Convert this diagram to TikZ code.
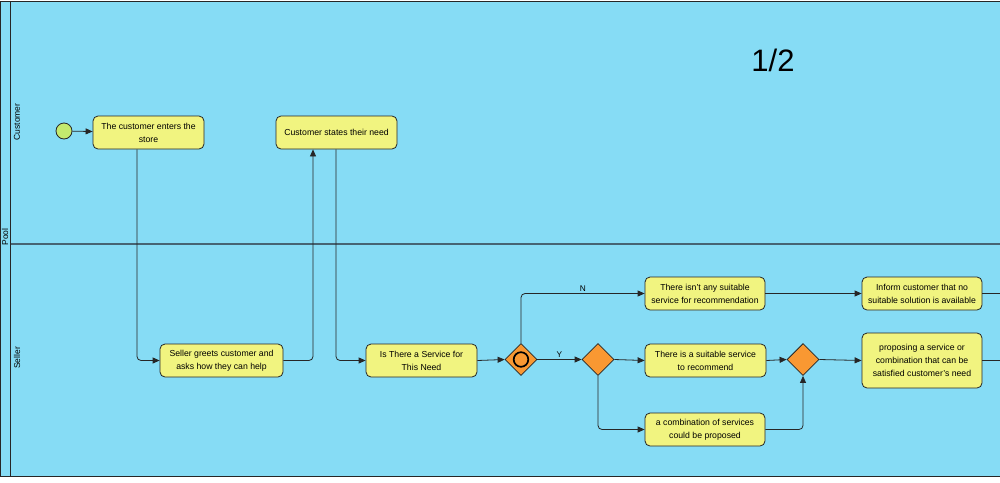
\documentclass[tikz,border=0pt]{standalone}
\usepackage{fontspec}
\setmainfont{Liberation Sans}
\usetikzlibrary{shapes.geometric,arrows.meta}
\definecolor{poolbg}{RGB}{134,220,245}
\definecolor{taskfill}{RGB}{241,244,128}
\definecolor{gwfill}{RGB}{249,152,50}
\definecolor{startfill}{RGB}{196,234,110}
\definecolor{lanesep}{RGB}{70,100,115}
\tikzset{
  task/.style={draw=black!85, fill=taskfill, rounded corners=5pt, line width=0.8pt,
    minimum height=33pt, inner sep=0pt, align=center,
    font=\fontsize{8.7}{13}\selectfont},
  gw/.style={draw=black!85, fill=gwfill, diamond, aspect=1, minimum width=32pt,
    minimum height=32pt, inner sep=0pt, line width=0.8pt},
  flow/.style={draw=black!85, line width=0.8pt, rounded corners=4pt,
    -{Triangle[length=7pt,width=6pt]}},
  plain/.style={draw=black!85, line width=0.8pt, rounded corners=4pt},
  lanelbl/.style={rotate=90, font=\fontsize{8.5}{10}\selectfont},
  flowlbl/.style={font=\fontsize{8.3}{10}\selectfont, inner sep=1.5pt}
}
\begin{document}
\begin{tikzpicture}[x=1pt,y=-1pt]
\useasboundingbox (0,0) rectangle (1000,482);
\fill[white] (0,0) rectangle (1000,482);
\fill[poolbg] (0,1) rectangle (1000,476);
\draw[black!85, line width=1pt] (1000,1) -- (0.5,1) -- (0.5,476) -- (1000,476);
\draw[black!85, line width=1pt] (10.5,1) -- (10.5,476);
\draw[lanesep, line width=1.2pt] (10.5,244) -- (1000,244);
\node[lanelbl] (lpool) at (5,237) {Pool};
\node[lanelbl] (lcust) at (17,122) {Customer};
\node[lanelbl] (lsell) at (17,358) {Seller};
\node[font=\fontsize{31}{36}\selectfont] (page) at (773,60) {1/2};

\node[circle, draw=black!85, fill=startfill, minimum size=16pt, inner sep=0pt, line width=0.8pt] (start) at (64,131) {};
\node[task, minimum width=111pt] (enters) at (148.5,132.5) {The customer enters the\\store};
\node[task, minimum width=121pt] (states) at (336.5,132.5) {Customer states their need};
\node[task, minimum width=123pt] (greets) at (221.5,360.5) {Seller greets customer and\\asks how they can help};
\node[task, minimum width=111pt] (isthere) at (421.5,360.5) {Is There a Service for\\This Need};
\node[gw] (gw1) at (521,359.5) {};
\draw[line width=1.7pt] (gw1.center) circle (7.3);
\node[gw] (gw2) at (598,359.5) {};
\node[task, minimum width=120pt] (isnt) at (705,293.5) {There isn't any suitable\\service for recommendation};
\node[task, minimum width=121pt] (suitable) at (705.5,360.5) {There is a suitable service\\to recommend};
\node[task, minimum width=120pt] (combo) at (705,429.5) {a combination of services\\could be proposed};
\node[gw] (gw3) at (803,359.5) {};
\node[task, minimum width=120pt] (inform) at (922,293.5) {Inform customer that no\\suitable solution is available};
\node[task, minimum width=120pt, minimum height=55pt] (propose) at (922,360.5) {proposing a service or\\combination that can be\\satisfied customer's need};
\coordinate (out1) at (1001,293.5);
\coordinate (out2) at (1001,360.5);

\draw[flow] (start) -- (enters);
\draw[flow] ([xshift=-11.5pt]enters.south) |- (greets.west);
\draw[flow] (greets.east) -| ([xshift=-23.5pt]states.south);
\draw[flow] ([xshift=-0.5pt]states.south) |- (isthere.west);
\draw[flow] (isthere.east) -- (gw1.west);
\draw[flow] (gw1.north) |- node[flowlbl, pos=0.75, above] {N} (isnt.west);
\draw[flow] (gw1.east) -- node[flowlbl, above] {Y} (gw2.west);
\draw[flow] (gw2.east) -- (suitable.west);
\draw[flow] (gw2.south) |- (combo.west);
\draw[flow] (suitable.east) -- (gw3.west);
\draw[flow] (combo.east) -| (gw3.south);
\draw[flow] (gw3.east) -- (propose.west);
\draw[flow] (isnt.east) -- (inform.west);
\draw[plain] (inform.east) -- (out1);
\draw[plain] (propose.east) -- (out2);
\end{tikzpicture}
\end{document}
